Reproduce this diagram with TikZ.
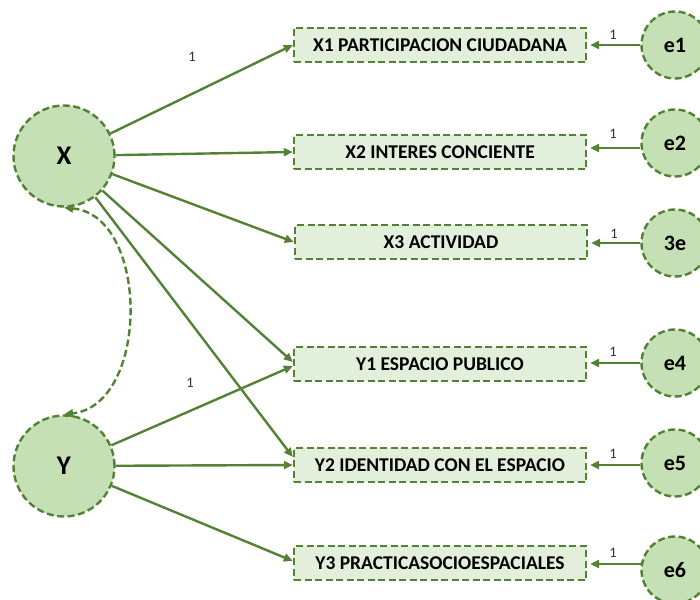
\documentclass[tikz,border=0pt]{standalone}
\usepackage{fontspec}
\setmainfont{Carlito}
\usetikzlibrary{arrows.meta,calc}
\definecolor{lg}{HTML}{548235}
\definecolor{cf}{HTML}{C5E0B4}
\definecolor{bf}{HTML}{E2EFDA}
\begin{document}
\begin{tikzpicture}[x=1pt,y=-1pt,
  latent/.style={circle, draw=lg, fill=cf, line width=2.4pt, dash pattern=on 7pt off 3.5pt, minimum size=101pt, inner sep=0pt, font=\bfseries\fontsize{27}{27}\selectfont},
  obs/.style={rectangle, draw=lg, fill=bf, line width=2.4pt, dash pattern=on 7pt off 3.5pt, minimum width=292pt, minimum height=34pt, inner sep=0pt, font=\bfseries\fontsize{19.5}{20}\selectfont},
  err/.style={circle, draw=lg, fill=cf, line width=2.4pt, dash pattern=on 7pt off 3.5pt, minimum size=67pt, inner sep=0pt, font=\bfseries\fontsize{22}{22}\selectfont},
  path/.style={draw=lg, line width=2.4pt, -{Triangle[length=9pt,width=8pt]}},
  one/.style={font=\fontsize{14.5}{14.5}\selectfont, text=black!80}
]
\useasboundingbox (0,0) rectangle (700,599);
\clip (0,0) rectangle (700,599);
\node[latent] (X) at (64,156) {X};
\node[latent] (Y) at (64,466) {Y};
\node[obs] (X1) at (440,45) {X1 PARTICIPACION CIUDADANA};
\node[obs] (X2) at (440,152) {X2 INTERES CONCIENTE};
\node[obs] (X3) at (441,242) {X3 ACTIVIDAD};
\node[obs] (Y1) at (440,364) {Y1 ESPACIO PUBLICO};
\node[obs] (Y2) at (440,465) {Y2 IDENTIDAD CON EL ESPACIO};
\node[obs] (Y3) at (440,563) {Y3 PRACTICASOCIOESPACIALES};
\node[err] (e1) at (675,45) {e1};
\node[err] (e2) at (675,143) {e2};
\node[err] (e3) at (675,243) {3e};
\node[err] (e4) at (675,363) {e4};
\node[err] (e5) at (675,463) {e5};
\node[err] (e6) at (675,570) {e6};
\draw[path] (X) -- (X1.west);
\draw[path] (X) -- (X2.west);
\draw[path] (X) -- (X3.west);
\draw[path] (X) -- ($(Y1.west)+(0,-2)$);
\draw[path] (X) -- ($(Y2.west)+(0,-8)$);
\draw[path] (Y) -- ($(Y1.west)+(0,2)$);
\draw[path] (Y) -- (Y2.west);
\draw[path] (Y) -- ($(Y3.west)+(0,-2)$);
\coordinate (t1) at ($(X1.east)+(3,0)$);
\coordinate (t2) at ($(X2.east)+(3,-4)$);
\coordinate (t3) at ($(X3.east)+(3,1)$);
\coordinate (t4) at ($(Y1.east)+(3,-1)$);
\coordinate (t5) at ($(Y2.east)+(3,0)$);
\coordinate (t6) at ($(Y3.east)+(3,1)$);
\draw[path] (e1.west |- t1) -- (t1);
\draw[path] (e2.west |- t2) -- (t2);
\draw[path] (e3.west |- t3) -- (t3);
\draw[path] (e4.west |- t4) -- (t4);
\draw[path] (e5.west |- t5) -- (t5);
\draw[path] ([xshift=2pt]e6.west |- t6) -- (t6);
\node[one] (l0) at (192,57) {1};
\node[one] (l1) at (190,383) {1};
\node[one] (l2) at (613,35) {1};
\node[one] (l3) at (613,134) {1};
\node[one] (l4) at (614,234) {1};
\node[one] (l5) at (613,352) {1};
\node[one] (l6) at (613,454) {1};
\node[one] (l7) at (613,553) {1};
\draw[draw=lg, line width=2.4pt, dash pattern=on 7pt off 3.5pt, {Triangle[length=9pt,width=8pt]}-{Triangle[length=9pt,width=8pt]}] (X.south) .. controls (150,215) and (150,405) .. (Y.north);
\end{tikzpicture}
\end{document}
